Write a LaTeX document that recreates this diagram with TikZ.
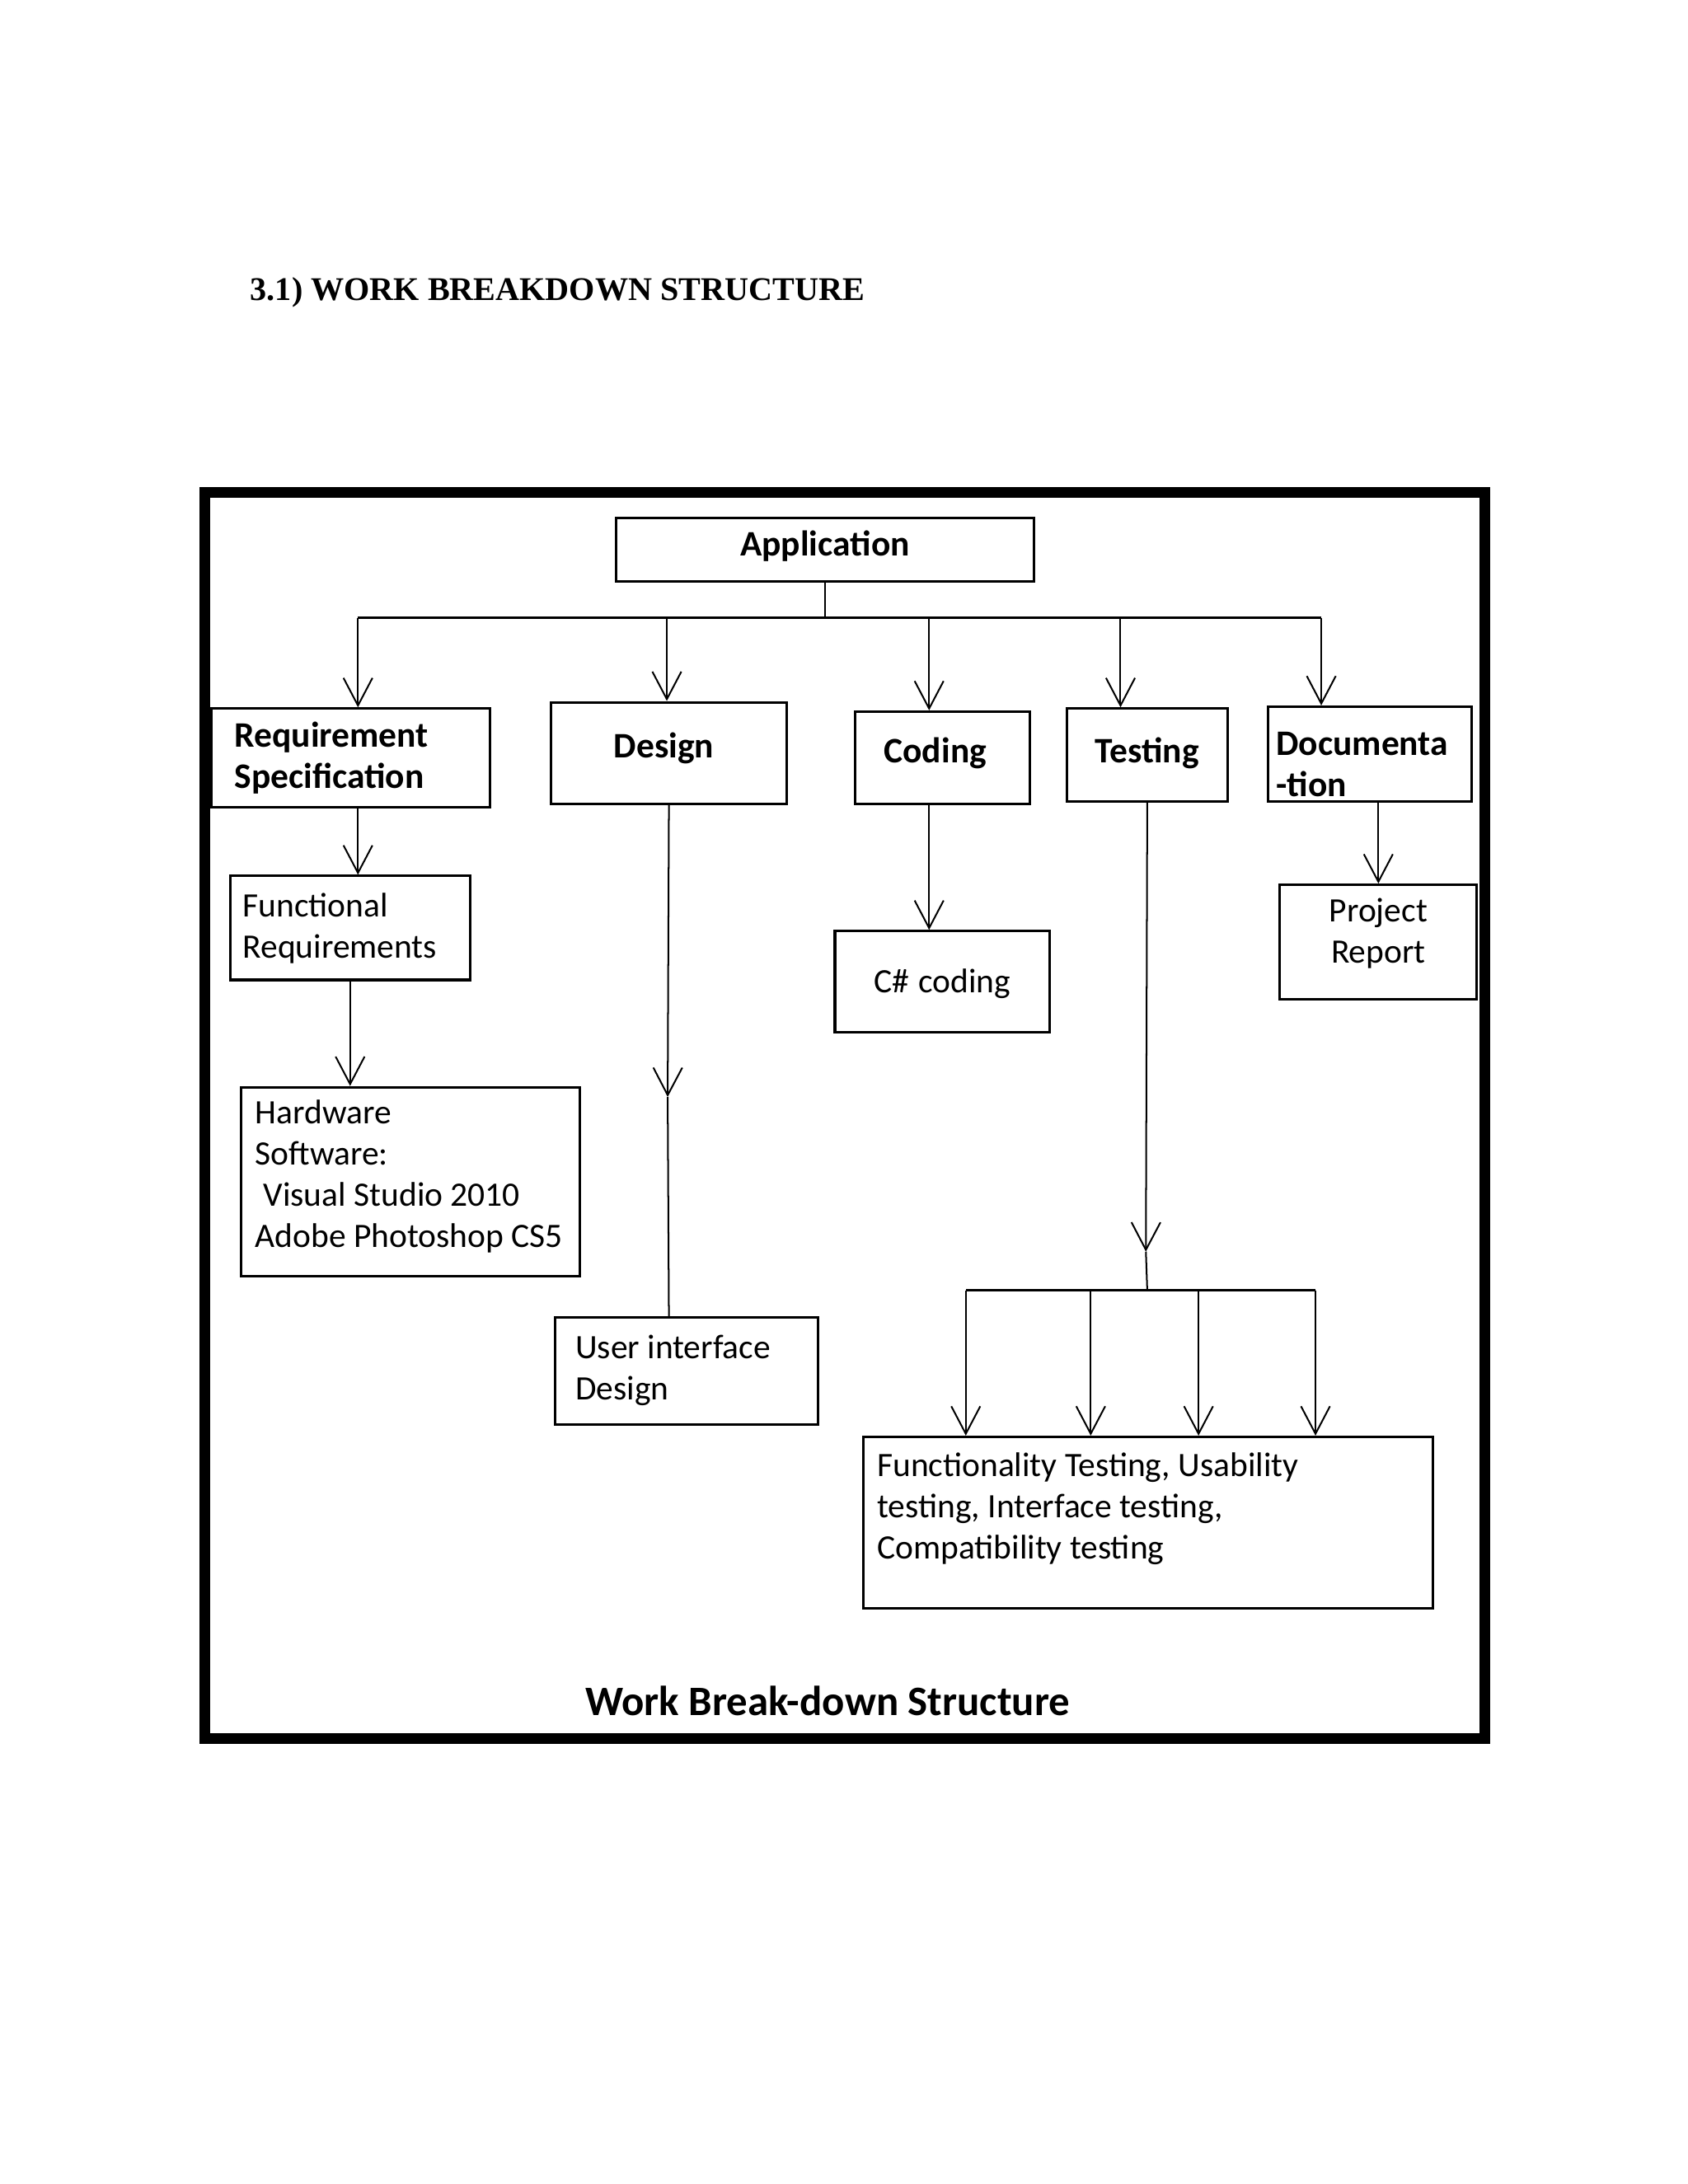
\documentclass[tikz,border=0pt]{standalone}
\usepackage{fontspec}
\setmainfont{Carlito}
\newfontfamily\titlefont{Liberation Serif}
\usetikzlibrary{arrows.meta}
\tikzset{
  wbs/.style n args={4}{draw, line width=0.9pt, anchor=north west, inner ysep=0pt,
    inner xsep=#2, text width=#1, text height=#3, text depth=#4,
    execute at begin node={\spaceskip=0pt\xspaceskip=0pt}},
  head/.style={font=\bfseries\fontsize{13}{15}\selectfont},
  leaf/.style={font=\fontsize{12.4}{15}\selectfont},
  link/.style={line width=0.6pt},
  bus/.style={line width=0.9pt},
  arr/.style={line width=0.6pt, -{Straight Barb[length=10pt,width=10.5pt]}}
}
\begin{document}
\begin{tikzpicture}[x=1pt,y=-1pt]
    \useasboundingbox (0,0) rectangle (612,792);
    \node[anchor=base west, inner sep=0pt, font=\titlefont\bfseries\fontsize{12}{14}\selectfont] (title) at (90.6,108.8) {3.1) WORK BREAKDOWN STRUCTURE};
    \draw[line width=3.9pt] (74.3,178.6) rectangle (538.4,630.5);

    \node[wbs={143.6pt}{4pt}{13.7pt}{9.5pt}, head, align=center] (app) at (222.9,187.3) {Application};
    \node[wbs={84.3pt}{8.3pt}{13.9pt}{22pt}, head, align=left] (req) at (76.3,256.5) {Requirement\\Specification};
    \node[wbs={39.8pt}{22.9pt}{20.2pt}{16.7pt}, head, align=left] (des) at (199.3,254.2) {Design};
    \node[wbs={42.5pt}{10.4pt}{18.4pt}{15.1pt}, head, align=left] (cod) at (309.7,257.6) {Coding};
    \node[wbs={50.1pt}{4pt}{19.5pt}{14.1pt}, head, align=center] (tst) at (386.5,256.5) {Testing};
    \node[wbs={68pt}{3pt}{17.6pt}{16.7pt}, head, align=left] (doc) at (459.3,255.8) {Documenta\\-tion};
    \node[wbs={77.8pt}{4.6pt}{14.8pt}{22.9pt}, leaf, align=left] (fr) at (83,317.2) {Functional\\Requirements};
    \node[wbs={112.6pt}{5.1pt}{13.2pt}{55.4pt}, leaf, align=left] (hw) at (87,393.8) {Hardware\\Software:\\\hspace*{3pt}Visual Studio 2010\\Adobe Photoshop CS5};
    \node[wbs={80.8pt}{7.3pt}{14.9pt}{23.7pt}, leaf, align=left] (ui) at (200.9,477.4) {User interface\\Design};
    \node[wbs={69.9pt}{4pt}{22.3pt}{14.5pt}, leaf, align=center] (cs) at (302.3,337.2) {C\# coding};
    \node[wbs={63.5pt}{4pt}{13.4pt}{28.2pt}, leaf, align=center] (pr) at (463.6,320.4) {Project\\Report};
    \node[wbs={196.7pt}{4.9pt}{14.3pt}{47.8pt}, leaf, align=left] (tests) at (312.7,520.6) {Functionality Testing, Usability\\testing, Interface testing,\\Compatibility testing};
    \node[font=\bfseries\fontsize{15.2}{18}\selectfont, anchor=base, inner sep=0pt] (cap) at (300.1,622) {Work Break-down Structure};

    % top level
    \coordinate (b1) at (129.8,224.1);
    \coordinate (b2) at (241.8,224.1);
    \coordinate (b3) at (336.9,224.1);
    \coordinate (b4) at (406.3,224.1);
    \coordinate (b5) at (479.1,224.1);
    \draw[link] (app.south) -- (app.south |- b1);
    \draw[bus] (b1) -- (b5);
    \foreach \b/\n in {b1/req, b2/des, b3/cod, b4/tst, b5/doc}
        \draw[arr] (\b) -- (\b |- \n.north);

    % second level
    \draw[arr] (b1 |- req.south) -- (b1 |- fr.north);
    \draw[arr] (fr.south) -- (fr.south |- hw.north);
    \coordinate (dmid) at (242.1,397.8);
    \draw[arr] (des.south) -- (dmid);
    \draw[link] (dmid) -- (des.south |- ui.north);
    \draw[arr] (b3 |- cod.south) -- (b3 |- cs.north);
    \draw[arr] (pr.north |- doc.south) -- (pr.north);

    % testing
    \coordinate (tmid) at (415.5,453.9);
    \coordinate (t1) at (350.2,467.9);
    \coordinate (t2) at (395.5,467.9);
    \coordinate (t3) at (434.6,467.9);
    \coordinate (t4) at (477.0,467.9);
    \draw[arr] (tst.south) -- (tmid);
    \draw[link] (tmid) -- (tst.south |- t1);
    \draw[bus] (t1) -- (t4);
    \foreach \t in {t1,t2,t3,t4}
        \draw[arr] (\t) -- (\t |- tests.north);
\end{tikzpicture}
\end{document}
